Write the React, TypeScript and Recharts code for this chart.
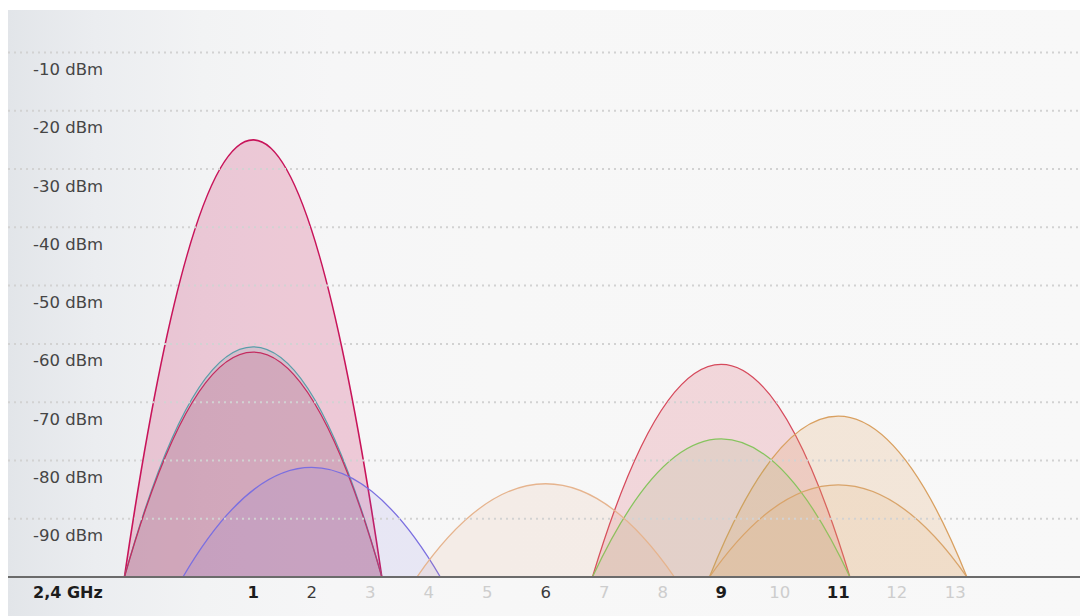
import React from 'react';
import { ComposedChart, Area, XAxis, YAxis, ReferenceLine } from 'recharts';

// ---- data ----
const channelTicks = [1, 2, 3, 4, 5, 6, 7, 8, 9, 10, 11, 12, 13];
const dbmTicks = [-90, -80, -70, -60, -50, -40, -30, -20, -10];
const bandLabel = '2,4 GHz';
// networks, strongest first
const networkChannels = [1, 1, 1, 9, 11, 9, 2, 6, 11];
const networkPeaks = [-25, -60.5, -61.4, -63.5, -72.4, -76.3, -81.2, -84, -84.2];
const floorDbm = -100;
const channelHalfWidth = 2.2; // 22 MHz wide channel, 5 MHz per channel step

// ---- styles ----
const seriesStroke = ['#c8145a', '#5a9eaa', '#c42c60', '#d64a5c', '#d9a060', '#86c45e', '#7b6fe0', '#e6b48e', '#d9a46a'];
const seriesFill = ['#cc1a5a', '#5a8a9a', '#c02a60', '#d84a5f', '#e0a060', '#8cb460', '#7d70dd', '#e0985e', '#e0a868'];
const seriesFillOpacity = [0.2, 0.15, 0.15, 0.19, 0.2, 0.14, 0.12, 0.1, 0.14];
const FONT = '"DejaVu Sans", "Open Sans", sans-serif';

const seriesData = networkChannels.map((ch, i) => [
  { ch: ch - channelHalfWidth, dbm: floorDbm },
  { ch, dbm: networkPeaks[i] },
  { ch: ch + channelHalfWidth, dbm: floorDbm },
]);

const channelCounts: Record<number, number> = {};
networkChannels.forEach((c) => {
  channelCounts[c] = (channelCounts[c] || 0) + 1;
});

// custom curve: parabolic arcs with a flat tangent at the peak
class ParabolaCurve {
  _context: any;
  _line: number = NaN;
  _pts: number[][] = [];
  constructor(context: any) {
    this._context = context;
  }
  areaStart() {
    this._line = 0;
  }
  areaEnd() {
    this._line = NaN;
  }
  lineStart() {
    this._pts = [];
  }
  point(x: number, y: number) {
    this._pts.push([+x, +y]);
  }
  lineEnd() {
    const p = this._pts;
    const ctx = this._context;
    if (p.length) {
      if (this._line) ctx.lineTo(p[0][0], p[0][1]);
      else ctx.moveTo(p[0][0], p[0][1]);
      for (let i = 1; i < p.length; i++) {
        const [x0, y0] = p[i - 1];
        const [x1, y1] = p[i];
        ctx.quadraticCurveTo((x0 + x1) / 2, Math.min(y0, y1), x1, y1);
      }
    }
    if (this._line || (this._line !== 0 && p.length === 1)) ctx.closePath();
    this._line = 1 - this._line;
  }
}
const parabolaCurve: any = (context: any) => new ParabolaCurve(context);

const YTick = (props: any) => {
  const { y, payload } = props;
  return (
    <text x={25} y={y + 17} dominantBaseline="central" fill="#454545" fontSize={16.5} fontFamily={FONT}>
      {`${payload.value} dBm`}
    </text>
  );
};

const XTick = (props: any) => {
  const { x, y, payload } = props;
  const n = channelCounts[payload.value] || 0;
  const fill = n >= 2 ? '#1c1c1c' : n === 1 ? '#3a3a3a' : '#cdcdcd';
  const weight = n >= 2 ? 700 : 400;
  return (
    <text x={x} y={y + 15} textAnchor="middle" dominantBaseline="central" fill={fill} fontWeight={weight} fontSize={16.5} fontFamily={FONT}>
      {String(payload.value)}
    </text>
  );
};

const BandLabel = (props: any) => {
  const vb = props.viewBox || { x: 0, y: 567 };
  return (
    <text x={vb.x + 25} y={vb.y + 15} dominantBaseline="central" fill="#1c1c1c" fontWeight={700} fontSize={16} fontFamily={FONT}>
      {bandLabel}
    </text>
  );
};

export default function App() {
  return (
    <div style={{ paddingTop: 2 }}>
      <div
        style={{
          width: 1080,
          height: 606,
          background:
            'linear-gradient(to right, #e2e5e9 0%, #ebedf0 8%, #f2f3f4 18%, #f6f6f7 30%, #f7f7f7 45%, #f8f8f8 100%)',
        }}
      >
        <ComposedChart width={1080} height={606} margin={{ top: 0, right: 0, bottom: 0, left: 0 }}>
          <XAxis
            type="number"
            dataKey="ch"
            domain={[-3.19, 15.27]}
            allowDataOverflow
            ticks={channelTicks}
            interval={0}
            tick={<XTick />}
            tickLine={false}
            tickSize={0}
            tickMargin={0}
            axisLine={{ stroke: '#6b6b6b', strokeWidth: 2 }}
            height={39}
            label={<BandLabel />}
          />
          <YAxis
            type="number"
            domain={[floorDbm, -2.71]}
            allowDataOverflow
            ticks={dbmTicks}
            interval={0}
            mirror
            width={80}
            axisLine={false}
            tickLine={false}
            tick={<YTick />}
          />
          {dbmTicks.map((v) => (
            <ReferenceLine key={`g${v}`} y={v} stroke="#d2d2d2" strokeDasharray="2 4" strokeWidth={2} />
          ))}
          {seriesData.map((d, i) => (
            <Area
              key={i}
              data={d}
              dataKey="dbm"
              type={parabolaCurve}
              baseValue={floorDbm}
              stroke={seriesStroke[i]}
              strokeWidth={i === 0 ? 1.6 : 1.3}
              fill={seriesFill[i]}
              fillOpacity={seriesFillOpacity[i]}
              dot={false}
              activeDot={false}
              isAnimationActive={false}
            />
          ))}
        </ComposedChart>
      </div>
    </div>
  );
}
